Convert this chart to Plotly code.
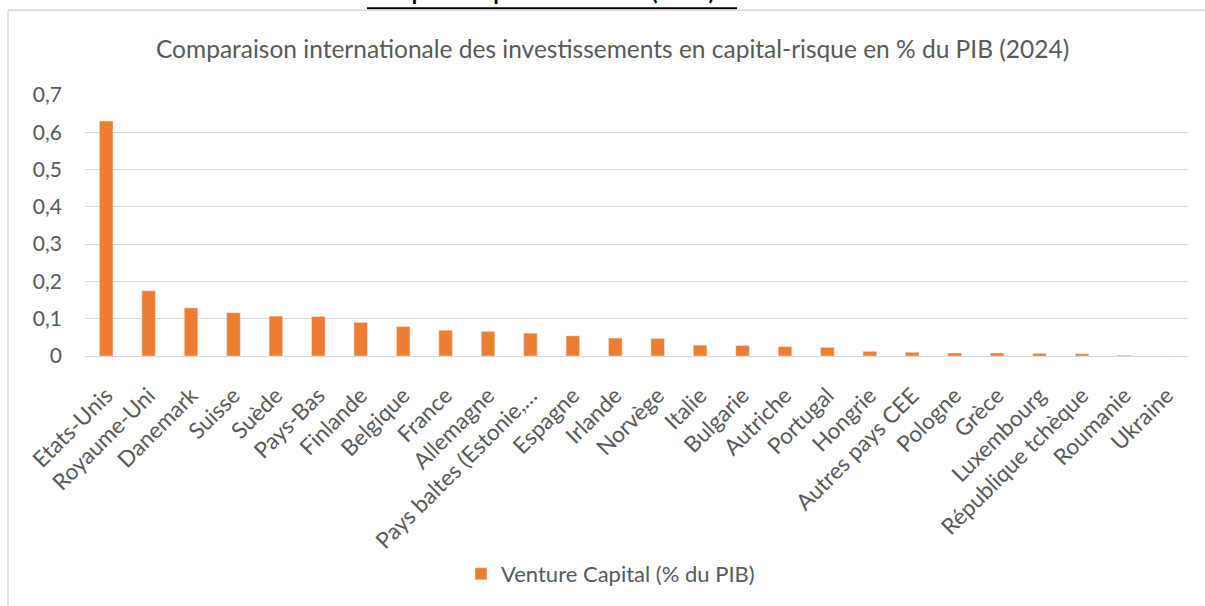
import plotly.graph_objects as go

# Venture capital investment as a share of GDP, 2024
pays = [
    "Etats-Unis", "Royaume-Uni", "Danemark", "Suisse", "Suède", "Pays-Bas",
    "Finlande", "Belgique", "France", "Allemagne", "Pays baltes (Estonie,…",
    "Espagne", "Irlande", "Norvège", "Italie", "Bulgarie", "Autriche",
    "Portugal", "Hongrie", "Autres pays CEE", "Pologne", "Grèce",
    "Luxembourg", "République tchèque", "Roumanie", "Ukraine",
]
vc_pib = [
    0.63, 0.175, 0.129, 0.116, 0.107, 0.106, 0.090, 0.079, 0.069, 0.066,
    0.061, 0.054, 0.048, 0.047, 0.029, 0.028, 0.025, 0.023, 0.0125, 0.010,
    0.008, 0.008, 0.007, 0.006, 0.002, 0.0,
]
y_ticks = [0, 0.1, 0.2, 0.3, 0.4, 0.5, 0.6, 0.7]
y_labels = ["0", "0,1", "0,2", "0,3", "0,4", "0,5", "0,6", "0,7"]

W, H = 1205, 606
L, R, T, B = 85, 17, 95, 249
FONT = "Lato"
GREY = "#595959"
ORANGE = "#ED7D31"
LINE = "#D9D9D9"


def px_x(p):
    return (p - L) / (W - L - R)


def px_y(p):
    return (H - B - p) / (H - T - B)


fig = go.Figure(
    go.Bar(
        x=pays,
        y=vc_pib,
        name="Venture Capital (% du PIB)",
        marker=dict(color=ORANGE),
    )
)

fig.update_layout(
    width=W,
    height=H,
    margin=dict(l=L, r=R, t=T, b=B, pad=0),
    paper_bgcolor="white",
    plot_bgcolor="white",
    bargap=0.68,
    font=dict(family=FONT, color=GREY, size=20),
    showlegend=True,
    legend=dict(
        orientation="h",
        x=px_x(461),
        y=px_y(574),
        xanchor="left",
        yanchor="middle",
        font=dict(family=FONT, size=22, color=GREY),
        bgcolor="rgba(0,0,0,0)",
        itemwidth=30,
    ),
    annotations=[
        dict(
            text="Comparaison internationale des investissements en capital-risque en % du PIB (2024)",
            xref="paper", yref="paper",
            x=px_x(612), y=px_y(48),
            xanchor="center", yanchor="middle",
            showarrow=False,
            font=dict(family=FONT, size=24.5, color=GREY),
        ),
        dict(
            text="<b>capital-risque en % du PIB (2024)</b>",
            xref="paper", yref="paper",
            x=px_x(552), y=px_y(7),
            xanchor="center", yanchor="bottom",
            showarrow=False,
            font=dict(family=FONT, size=22, color="black"),
        ),
    ],
    shapes=[
        # heading underline
        dict(type="line", xref="paper", yref="paper",
             x0=px_x(367), x1=px_x(737), y0=px_y(8), y1=px_y(8),
             line=dict(color="black", width=2)),
        # chart frame
        dict(type="line", xref="paper", yref="paper",
             x0=px_x(8), x1=px_x(1215), y0=px_y(10), y1=px_y(10),
             line=dict(color=LINE, width=1.5)),
        dict(type="line", xref="paper", yref="paper",
             x0=px_x(8), x1=px_x(8), y0=px_y(10), y1=px_y(620),
             line=dict(color=LINE, width=1.5)),
    ],
)

fig.update_xaxes(
    tickangle=-45,
    tickfont=dict(family=FONT, size=22.5, color=GREY),
    showgrid=False,
    showline=False,
    ticks="",
    ticklabelstandoff=21,
)
fig.update_yaxes(
    range=[0, 0.7],
    tickvals=y_ticks,
    ticktext=y_labels,
    tickfont=dict(family=FONT, size=21, color=GREY),
    showgrid=True,
    gridcolor=LINE,
    gridwidth=1.3,
    zeroline=True,
    zerolinecolor=LINE,
    zerolinewidth=1.3,
    showline=False,
    ticks="",
    ticklabelstandoff=22,
)

fig.write_html("out.html")
